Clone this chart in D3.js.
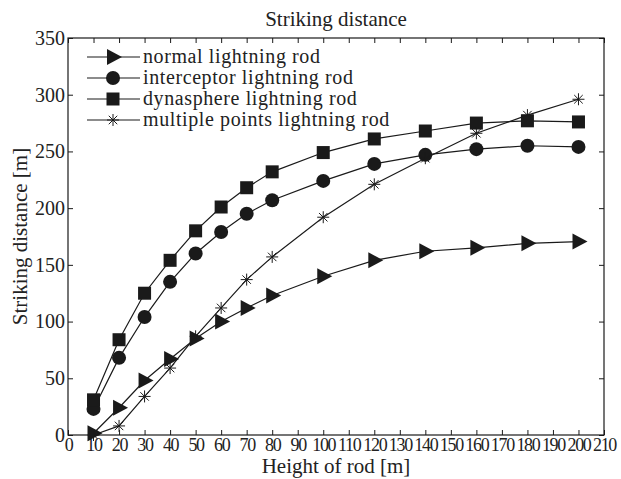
<!DOCTYPE html>
<html><head><meta charset="utf-8">
<script src="https://cdn.jsdelivr.net/npm/d3@7"></script>
<style>body{margin:0;background:#fff}svg{display:block}svg text{font-family:'Liberation Serif',serif !important;fill:#222}</style>
</head><body><svg id="c" width="621" height="479"></svg>
<script>
const heights = [10,20,30,40,50,60,70,80,100,120,140,160,180,200];
const normalRod = [1.5,24,48,67,85,100,112,123,140,154,162,165,169,170.5];
const interceptorRod = [23,68,104,135,160,179,195,207,224,239,247,252,255,254];
const dynasphereRod = [31,84,125,154,180,201,218,232,249,261,268,275,277,276];
const multiplePointsRod = [0,8,34,59,87,112,137,157,192,221,244,266,282,296];
const seriesNames = ["normal lightning rod","interceptor lightning rod","dynasphere lightning rod","multiple points lightning rod"];
const seriesMarkers = ["triangle","circle","square","star"];
const xTicks = d3.range(0,211,10);
const yTicks = d3.range(0,351,50);

const FF="'Liberation Serif', serif";
const svg = d3.select("#c");
const L=68,R=604,T=38,B=435;
const x = d3.scaleLinear().domain([0,210]).range([L,R]);
const y = d3.scaleLinear().domain([0,350]).range([B,T]);
const ink="#1a1a1a";

svg.append("rect").attr("x",L).attr("y",T).attr("width",R-L).attr("height",B-T).attr("fill","none").attr("stroke",ink).attr("stroke-width",1.2);

const tl=5;
const gx=svg.append("g").attr("transform",`translate(0,${B})`).call(d3.axisBottom(x).tickValues(xTicks).tickSize(-tl).tickPadding(3).tickFormat(d3.format("d")));
const gxt=svg.append("g").attr("transform",`translate(0,${T})`).call(d3.axisTop(x).tickValues(xTicks).tickSize(-tl).tickFormat(""));
const gy=svg.append("g").attr("transform",`translate(${L},0)`).call(d3.axisLeft(y).tickValues(yTicks).tickSize(-tl).tickPadding(3).tickFormat(d3.format("d")));
const gyr=svg.append("g").attr("transform",`translate(${R},0)`).call(d3.axisRight(y).tickValues(yTicks).tickSize(-tl).tickFormat(""));
[gx,gxt,gy,gyr].forEach(g=>{g.attr("font-family",FF);g.select(".domain").remove();g.selectAll("line").attr("stroke",ink).attr("stroke-width",1);g.selectAll("text").style("font-family",FF).attr("font-size",20).attr("fill","#222");});
gx.selectAll("text").attr("font-size",18).attr("letter-spacing",-1.3);

function txt(x0,y0,s,size){return svg.append("text").attr("x",x0).attr("y",y0).attr("text-anchor","middle").style("font-family",FF).attr("font-size",size).text(s);}
txt(336,26,"Striking distance",21);
txt(336,473,"Height of rod [m]",21);
txt(0,0,"Striking distance [m]",21).attr("transform",`translate(27,${(T+B)/2}) rotate(-90)`);

function marker(g,type,cx,cy){
  if(type==="triangle"){g.append("path").attr("d",`M${cx-6},${cy-8}L${cx+9},${cy}L${cx-6},${cy+8}Z`).attr("fill",ink);}
  else if(type==="circle"){g.append("circle").attr("cx",cx).attr("cy",cy).attr("r",7).attr("fill",ink);}
  else if(type==="square"){g.append("rect").attr("x",cx-6.5).attr("y",cy-6.5).attr("width",13).attr("height",13).attr("fill",ink);}
  else { const r=6; let d=""; for(let i=0;i<4;i++){const a=i*Math.PI/4; d+=`M${cx-r*Math.cos(a)},${cy-r*Math.sin(a)}L${cx+r*Math.cos(a)},${cy+r*Math.sin(a)}`;}
    g.append("path").attr("d",d).attr("stroke",ink).attr("stroke-width",1).attr("fill","none");}
}
const allSeries=[normalRod,interceptorRod,dynasphereRod,multiplePointsRod];
const line=d3.line().x(d=>x(d[0])).y(d=>y(d[1]));
allSeries.forEach((vals,i)=>{
  const pts=heights.map((h,j)=>[h,vals[j]]);
  const g=svg.append("g");
  g.append("path").attr("d",line(pts)).attr("fill","none").attr("stroke",ink).attr("stroke-width",1.2);
  pts.forEach(p=>marker(g,seriesMarkers[i],x(p[0]),y(p[1])));
});

const ly0=57, ldy=21;
seriesNames.forEach((n,i)=>{
  const g=svg.append("g");
  const yy=ly0+i*ldy;
  g.append("line").attr("x1",87).attr("x2",140).attr("y1",yy).attr("y2",yy).attr("stroke",ink).attr("stroke-width",1.2);
  marker(g,seriesMarkers[i],113,yy);
  g.append("text").attr("x",143).attr("y",yy+6).style("font-family",FF).attr("font-size",20).attr("letter-spacing",0.6).text(n);
});
</script></body></html>
